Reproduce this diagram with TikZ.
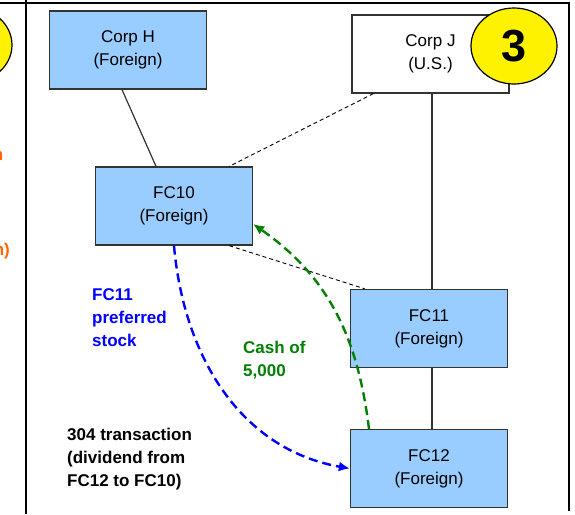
\documentclass[tikz,border=0pt]{standalone}
\usepackage{fontspec}
\setmainfont{Liberation Sans}
\usepackage{xcolor}
\usepackage{tikz}
\usetikzlibrary{arrows,arrows.meta}
\usetikzlibrary{positioning}
\usetikzlibrary{shapes.geometric}

\definecolor{boxblue}{HTML}{99CCFF}
\definecolor{linegray}{HTML}{333333}
\definecolor{cashgreen}{HTML}{008000}
\definecolor{slideorange}{HTML}{FF6600}

\begin{document}
\begin{tikzpicture}[x=1pt,y=1pt,
  box/.style={draw=linegray,line width=1.3pt,fill=boxblue,minimum width=157pt,minimum height=78pt,align=center,font=\fontsize{17}{23}\selectfont},
  tag/.style={align=left,anchor=north west,inner sep=0pt,font=\bfseries\fontsize{17}{23}\selectfont},
  flow/.style={line width=2.4pt,dash pattern=on 9pt off 5pt,-{Latex[length=11pt,width=10pt]}},
  link/.style={draw=linegray,line width=1.2pt},
  owns/.style={draw=black,line width=0.9pt,dash pattern=on 4pt off 3pt}]
\useasboundingbox (0,0) rectangle (575,-514);
% slide frame and the edge of the slide before it
\draw[line width=2.5pt] (0,-3) -- (570,-3);
\draw[line width=2pt] (26,0) -- (26,-514);
\draw[line width=2.5pt] (569,-3) -- (569,-511);
\begin{scope}
\clip (0,0) rectangle (25,-514);
\node[ellipse,draw=black,line width=1.2pt,fill=yellow,minimum width=86pt,minimum height=76pt] (O) at (-31,-45) {};
\node[anchor=base east,inner sep=0pt,text=slideorange,font=\bfseries\fontsize{17}{23}\selectfont] (U) at (3.5,-160) {n};
\node[anchor=base east,inner sep=0pt,text=slideorange,font=\bfseries\fontsize{17}{23}\selectfont] (V) at (10,-255) {n)};
\end{scope}

\node[box] (H) at (128,-50) {Corp H\\(Foreign)};
\node[box,fill=white] (J) at (430.5,-54) {Corp J\\(U.S.)};
\node[ellipse,draw=black,line width=1.2pt,fill=yellow,minimum width=86pt,minimum height=76pt,font=\bfseries\fontsize{45}{45}\selectfont] (N) at (514,-46) {3};
\node[box] (P) at (174,-206) {FC10\\(Foreign)};
\node[box] (Q) at (429,-328.5) {FC11\\(Foreign)};
\node[box] (R) at (429,-468.5) {FC12\\(Foreign)};

\draw[link] ([xshift=-6pt]H.south) -- ([xshift=-18pt]P.north);
\draw[link] ([xshift=3pt]Q.north |- J.south) -- ([xshift=3pt]Q.north);
\draw[link] ([xshift=3pt]Q.south) -- ([xshift=3pt]R.north);
\draw[owns] ([xshift=22pt]J.south west) -- ([xshift=-24pt]P.north east);
\draw[owns] ([xshift=-24pt]P.south east) -- ([xshift=15pt]Q.north west);

\path[flow,blue] (P.south) edge[out=-85,in=170] (R.west);
\path[flow,cashgreen] ([xshift=-60pt]R.north) edge[out=97,in=-35] ([yshift=-18pt]P.east);

\node[tag,text=blue] (S) at (92,-288) {FC11\\preferred\\stock};
\node[tag,text=cashgreen] (C) at (243,-341) {Cash of\\5,000};
\node[tag] (T) at (67,-428) {304 transaction\\(dividend from\\FC12 to FC10)};
\end{tikzpicture}
\end{document}
